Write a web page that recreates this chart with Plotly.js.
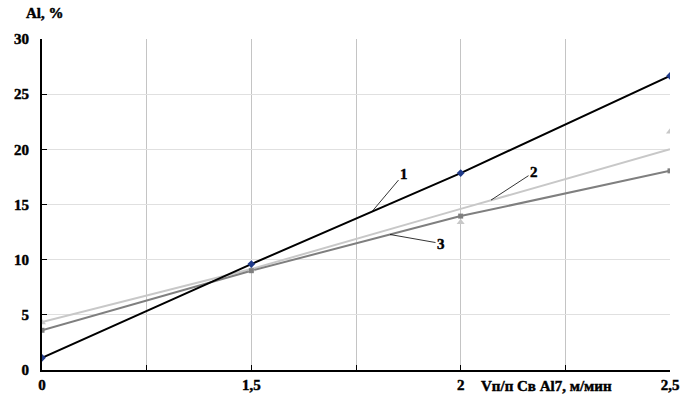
<!DOCTYPE html>
<html><head><meta charset="utf-8">
<script src="https://cdn.plot.ly/plotly-3.0.1.min.js"></script>
<style>body{margin:0;background:#fff}#c{width:683px;height:398px}
#c text{font-weight:700 !important;stroke:#000;stroke-width:0.45px}</style>
</head><body><div id="c"></div>
<script>
const categories = ['0', '1,5', '2', '2,5'];
const series1 = [1.1, 9.6, 17.85, 26.65];
const series2Line = [4.35, 9.15, 14.6, 20.0];
const series2Points = [4.3, 9.1, 13.4, 21.6];
const series3 = [3.6, 9.0, 13.95, 18.05];
const yTicks = [0, 5, 10, 15, 20, 25, 30];

const xs = categories.map((c, i) => i * 2);
const tickvals = [], ticktext = [];
for (let v = 0; v <= xs[xs.length - 1]; v++) {
  tickvals.push(v);
  const k = xs.indexOf(v);
  ticktext.push(k >= 0 ? categories[k] : '');
}
const F = {family: '"Liberation Serif", "Times New Roman", serif', size: 15, color: '#000', weight: 700};
const data = [
  {x: xs, y: series2Line, mode: 'lines', line: {color: '#c8c8c8', width: 2}, hoverinfo: 'skip'},
  {x: xs, y: series3, mode: 'lines', line: {color: '#7f7f7f', width: 2}, hoverinfo: 'skip'},
  {x: xs, y: series1, mode: 'lines', line: {color: '#000', width: 2}, hoverinfo: 'skip'},
  {x: xs, y: series2Points, mode: 'markers', marker: {symbol: 'triangle-up', size: 7, color: '#c8c8c8'}},
  {x: xs, y: series3, mode: 'markers', marker: {symbol: 'square', size: 5, color: '#7f7f7f'}},
  {x: xs, y: series1, mode: 'markers', marker: {symbol: 'diamond', size: 6, color: '#1f3a8a'}}
];
const layout = {
  width: 683, height: 398,
  margin: {l: 42, r: 13, t: 39, b: 28},
  showlegend: false,
  paper_bgcolor: '#fff', plot_bgcolor: '#fff',
  font: F,
  xaxis: {
    range: [0, 6], tickmode: 'array', tickvals: tickvals, ticktext: ticktext,
    showgrid: true, gridcolor: '#c4c4c4', gridwidth: 1,
    showline: true, linecolor: '#000', linewidth: 2,
    ticks: 'inside', ticklen: 5, tickcolor: '#000', tickwidth: 1,
    tickfont: F, zeroline: false
  },
  yaxis: {
    range: [0, 30], tickmode: 'array', tickvals: yTicks,
    showgrid: true, gridcolor: '#e0e0e0', gridwidth: 1,
    showline: true, linecolor: '#000', linewidth: 2,
    ticks: 'inside', ticklen: 5, tickcolor: '#000', tickwidth: 1,
    tickfont: F, zeroline: false, ticklabelstandoff: 8
  },
  annotations: [
    {xref: 'paper', yref: 'paper', x: 0.0, y: 1, xanchor: 'left', yanchor: 'bottom', yshift: 16, xshift: -18,
     text: '<b>Al, %</b>', showarrow: false, font: F},
    {xref: 'x', yref: 'paper', x: 4.82, y: 0, yanchor: 'top', yshift: -6,
     text: '<b>Vп/п Св Al7, м/мин</b>', showarrow: false, font: F},
    {x: 3.153, y: 14.36, text: '<b>1</b>', showarrow: true, arrowhead: 0, arrowwidth: 0.8, arrowcolor: '#000', ax: 32, ay: -38, font: F},
    {x: 4.29, y: 15.4, text: '<b>2</b>', showarrow: true, arrowhead: 0, arrowwidth: 0.8, arrowcolor: '#000', ax: 43, ay: -28, font: F},
    {x: 3.325, y: 12.28, text: '<b>3</b>', showarrow: true, arrowhead: 0, arrowwidth: 0.8, arrowcolor: '#000', ax: 51, ay: 9, font: F}
  ]
};
Plotly.newPlot('c', data, layout, {displayModeBar: false, staticPlot: true});
</script></body></html>
